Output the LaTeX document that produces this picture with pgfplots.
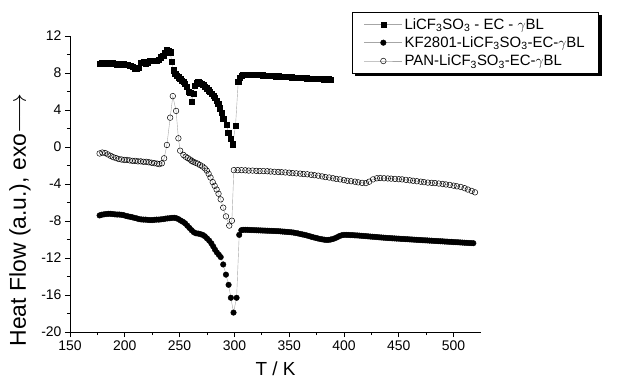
\documentclass[border=0pt]{standalone}
\usepackage{pgfplots}
\pgfplotsset{compat=1.18}
\usepackage{fontspec}
\setmainfont{Liberation Sans}
\pgfdeclarelayer{background}
\pgfsetlayers{background,main}
\begin{document}
\begin{tikzpicture}
\begin{axis}[
 scale only axis, width=411bp, height=296bp,
 xmin=150, xmax=525, ymin=-20, ymax=12,
 axis x line*=bottom, axis y line*=left,
 xtick={150,200,...,500}, minor x tick num=1,
 ytick={-20,-16,...,12}, minor y tick num=1,
 tick align=outside, major tick length=5bp, minor tick length=3bp,
 tick style={black, line width=0.8pt},
 axis line style={line width=0.8pt},
 /pgf/number format/assume math mode=true,
 ticklabel style={font=\fontsize{14}{16}\selectfont},
 xlabel={T / K}, ylabel={Heat Flow (a.u.), exo$\longrightarrow$},
 xlabel style={font=\fontsize{19}{22}\selectfont, at={(axis description cs:0.5,-0.125)}, anchor=center},
 ylabel style={font=\fontsize{23}{26}\selectfont, at={(axis description cs:-0.122,0.378)}, anchor=center},
 legend style={name=leg, at={(0.686,1.081)}, anchor=north west, draw=black, fill=white,
   font=\fontsize{15}{17}\selectfont, inner xsep=12bp, inner ysep=4bp, row sep=2bp,
   cells={anchor=west}},
 legend image code/.code={\draw[mark repeat=2,mark phase=2,#1] plot coordinates {(0bp,0bp)(19bp,0bp)(38bp,0bp)};},
]
\addplot[gray!70, line width=0.4pt, mark=square*, mark size=2.6bp, mark options={solid, black, fill=black}] coordinates {
(177,9.0)(179,9.05)(181,9.0)(183,9.05)(185,9.0)(187,9.0)(189,9.05)(191,9.0)(193,8.95)(195,9.0)(197,8.95)(199,9.0)(201,8.9)(203,8.9)(205,8.8)(207,8.65)(209,8.5)(211,8.45)(213,8.6)(215,9.1)(217,9.2)(219,9.0)(221,9.15)(223,9.3)(225,9.35)(227,9.3)(229,9.3)(231,9.45)(233,9.7)(235,9.9)(236.5,10.2)(238.4,10.5)(240,10.4)(241.4,10.25)(242.9,9.2)(244.4,8.3)(245.9,7.95)(247.5,7.75)(249,7.55)(250.5,7.35)(252,7.2)(253.5,7.05)(255,6.85)(256.5,6.55)(258,6.0)(259.6,5.85)(261.1,4.9)(262.5,5.8)(264,6.6)(265.6,6.9)(267,7.0)(268.6,6.95)(270,6.85)(271.5,6.7)(273.2,6.5)(274.7,6.35)(276.2,6.15)(277.7,6.0)(279.2,5.8)(280.8,5.55)(282.3,5.3)(283.8,5.0)(285.3,4.65)(286.8,4.2)(288.3,3.7)(289.8,3.1)(292.9,2.4)(294.4,1.55)(296.5,0.9)(298.4,0.3)(301,2.27)(303.5,7.06)(305,7.5)(306.5,7.7)(308,7.8)(310,7.82)(312,7.85)(314,7.85)(316,7.84)(318,7.82)(320,7.8)(322,7.8)(324,7.78)(326,7.76)(328,7.75)(330,7.73)(332,7.72)(334,7.7)(336,7.68)(338,7.66)(340,7.65)(342,7.63)(344,7.61)(346,7.6)(348,7.58)(350,7.56)(352,7.55)(354,7.53)(356,7.51)(358,7.5)(360,7.48)(362,7.47)(364,7.45)(366,7.44)(368,7.42)(370,7.41)(372,7.4)(374,7.38)(376,7.37)(378,7.36)(380,7.35)(382,7.34)(384,7.33)(386,7.32)(388,7.31)
};
\addlegendentry{LiCF\textsubscript{3}SO\textsubscript{3} - EC - $\gamma$BL}
\addplot[gray!70, line width=0.4pt, mark=*, mark size=2.8bp, mark options={solid, black, fill=black}] coordinates {
(177,-7.4)(179,-7.32)(181,-7.28)(183,-7.25)(185,-7.22)(187,-7.22)(189,-7.25)(191,-7.28)(193,-7.3)(195,-7.3)(197,-7.33)(199,-7.37)(201,-7.45)(203,-7.5)(205,-7.55)(207,-7.6)(209,-7.67)(211,-7.72)(213,-7.8)(215,-7.83)(217,-7.85)(219,-7.85)(221,-7.88)(223,-7.9)(225,-7.9)(227,-7.87)(229,-7.85)(231,-7.85)(233,-7.82)(235,-7.8)(237,-7.75)(239,-7.72)(241,-7.7)(243,-7.66)(245,-7.65)(247,-7.7)(249,-7.8)(251,-7.95)(253,-8.08)(255,-8.25)(257,-8.5)(259,-8.75)(261,-9.0)(263,-9.22)(265,-9.33)(267,-9.36)(269,-9.42)(271,-9.5)(273,-9.65)(275,-9.88)(277,-10.12)(279,-10.42)(280.7,-10.75)(282.3,-11.1)(284,-11.4)(285.8,-11.65)(287.5,-11.9)(289.8,-12.7)(292.3,-13.8)(294.7,-14.9)(296.8,-16.3)(299.2,-17.9)(302,-16.3)(304.4,-9.5)(306.3,-9.0)(308,-8.95)
(310,-8.95)(312,-8.96)(314,-8.97)(316,-8.98)(318,-8.99)(320,-9.0)(322,-9.01)(324,-9.02)(326,-9.03)(328,-9.04)(330,-9.05)(332,-9.06)(334,-9.07)(336,-9.08)(338,-9.09)(340,-9.1)(342,-9.12)(344,-9.14)(346,-9.16)(348,-9.18)(350,-9.2)(352,-9.22)(354,-9.25)(356,-9.3)(358,-9.34)(360,-9.4)(362,-9.45)(364,-9.5)(366,-9.56)(368,-9.62)(370,-9.7)(372,-9.76)(374,-9.82)(376,-9.88)(378,-9.94)(380,-9.98)(382,-10.02)(384,-10.05)(386,-10.04)(388,-10.0)(390,-9.94)(392,-9.85)(394,-9.74)(396,-9.62)(398,-9.54)(400,-9.5)(402,-9.5)(404,-9.51)(406,-9.52)(408,-9.53)(410,-9.55)(412,-9.56)(414,-9.58)(416,-9.6)(418,-9.62)(420,-9.64)(422,-9.66)(424,-9.68)(426,-9.7)(428,-9.72)(430,-9.74)(432,-9.76)(434,-9.78)(436,-9.8)(438,-9.82)(440,-9.84)(442,-9.85)(444,-9.87)(446,-9.88)(448,-9.9)(450,-9.91)(452,-9.93)(454,-9.94)(456,-9.96)(458,-9.97)(460,-9.99)(462,-10.0)(464,-10.02)(466,-10.03)(468,-10.05)(470,-10.06)(472,-10.08)(474,-10.09)(476,-10.1)(478,-10.12)(480,-10.13)(482,-10.15)(484,-10.16)(486,-10.18)(488,-10.19)(490,-10.2)(492,-10.22)(494,-10.23)(496,-10.25)(498,-10.26)(500,-10.28)(502,-10.29)(504,-10.3)(506,-10.32)(508,-10.33)(510,-10.35)(512,-10.36)(514,-10.38)(516,-10.39)(518,-10.4)
};
\addlegendentry{KF2801-LiCF\textsubscript{3}SO\textsubscript{3}-EC-$\gamma$BL}
\addplot[gray!70, line width=0.4pt, mark=o, mark size=2.8bp, mark options={solid, black, fill=white, line width=0.5pt}] coordinates {
(177,-0.7)(179.5,-0.6)(182,-0.65)(184.5,-0.8)(187,-0.95)(189.5,-1.1)(192,-1.2)(194.5,-1.3)(197,-1.35)(199.5,-1.4)(202,-1.4)(204.5,-1.45)(207,-1.5)(209.5,-1.5)(212,-1.55)(214.5,-1.55)(217,-1.6)(219.5,-1.6)(222,-1.65)(224.5,-1.7)(227,-1.75)(229.5,-1.8)(231.5,-1.85)(233.8,-1.76)(235.9,-1.22)(238.4,0.22)(241.4,3.17)(243.8,5.5)(246.8,3.9)(248.9,0.94)(250.5,-0.4)(253.5,-0.86)(255.5,-1.05)(257.5,-1.2)(259.5,-1.35)(261,-1.5)(262.5,-1.6)(264.5,-1.7)(266.5,-1.8)(268.6,-1.95)(270.8,-2.1)(273,-2.3)(274.8,-2.55)(276.5,-2.9)(278.2,-3.3)(280.2,-3.8)(282,-4.2)(283.8,-4.6)(285.5,-5.05)(287.5,-5.66)(289.8,-6.56)(292.3,-7.5)(295.3,-8.5)(297.7,-7.97)(299.5,-2.5)
(303,-2.5)(306.5,-2.5)(310,-2.52)(313,-2.55)(316.5,-2.55)(320,-2.58)(323,-2.6)(326.5,-2.6)(330,-2.62)(333,-2.65)(336.5,-2.68)(340,-2.7)(343,-2.72)(346.5,-2.75)(350,-2.78)(353,-2.82)(356.5,-2.85)(360,-2.88)(363,-2.92)(366.5,-2.95)(370,-3.0)(373,-3.05)(376.5,-3.1)(380,-3.18)(383,-3.25)(386.5,-3.3)(390,-3.38)(393,-3.45)(396.5,-3.5)(400,-3.58)(403,-3.65)(406.5,-3.7)(410,-3.75)(413,-3.82)(416.5,-3.88)(420,-3.9)(423,-3.75)(426.5,-3.5)(430,-3.38)(433,-3.35)(436.5,-3.38)(440,-3.4)(443,-3.42)(446.5,-3.45)(450,-3.48)(453,-3.5)(456.5,-3.55)(460,-3.6)(463,-3.65)(466.5,-3.7)(470,-3.75)(473,-3.8)(476.5,-3.85)(480,-3.88)(483,-3.9)(486.5,-3.95)(490,-4.0)(493,-4.05)(496.5,-4.1)(500,-4.18)(503,-4.25)(506.5,-4.32)(510,-4.45)(513,-4.6)(516.5,-4.75)(519.5,-4.9)
};
\addlegendentry{PAN-LiCF\textsubscript{3}SO\textsubscript{3}-EC-$\gamma$BL}
\end{axis}
\begin{pgfonlayer}{background}
\fill[black] ([shift={(3bp,-3bp)}]leg.south west) rectangle ([shift={(3bp,-3bp)}]leg.north east);
\end{pgfonlayer}
\pgfresetboundingbox
\path (-70bp,-49bp) rectangle (547bp,332bp);
\end{tikzpicture}
\end{document}
